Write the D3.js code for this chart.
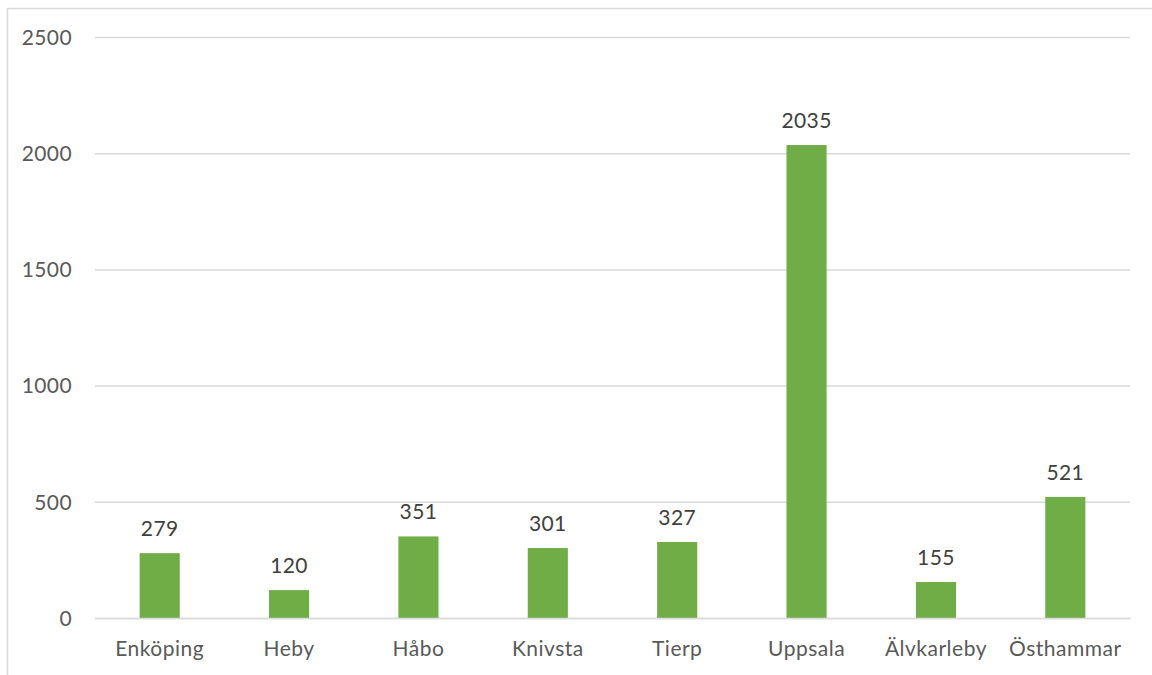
<!DOCTYPE html>
<html><head><meta charset="utf-8">
<script src="https://cdn.jsdelivr.net/npm/d3@7"></script>
<style>body{margin:0;background:#fff}svg{display:block}</style>
</head><body><svg id="c" width="1152" height="675"></svg>
<script>
const categories = ["Enköping","Heby","Håbo","Knivsta","Tierp","Uppsala","Älvkarleby","Östhammar"];
const values = [279,120,351,301,327,2035,155,521];
const yTicks = [0,500,1000,1500,2000,2500];

const svg = d3.select("#c");
const font = "Lato, 'Open Sans', sans-serif";
svg.append("rect").attr("x",7.5).attr("y",8.5).attr("width",1160).attr("height",700)
  .attr("fill","#fff").attr("stroke","#d9d9d9").attr("stroke-width",1.5);

const x = d3.scaleBand().domain(categories).range([95,1130]).paddingInner(0.69).paddingOuter(0.345);
const y = d3.scaleLinear().domain([0,2500]).range([618,37]);

const yAxis = svg.append("g").attr("transform","translate(95,0)")
  .call(d3.axisLeft(y).tickValues(yTicks).tickSize(-1035).tickPadding(23).tickFormat(d3.format("d")));
yAxis.select(".domain").remove();
yAxis.selectAll("line").attr("stroke","#d9d9d9").attr("stroke-width",1.5);
yAxis.selectAll("text").attr("fill","#595959").style("font-family",font).style("font-size","21px")
  .style("letter-spacing","0.4px").attr("dy","0.35em");

svg.append("g").selectAll("rect").data(values).join("rect")
  .attr("x",(d,i)=>x(categories[i])).attr("width",x.bandwidth())
  .attr("y",d=>y(d)).attr("height",d=>y(0)-y(d)).attr("fill","#70ad47");

svg.append("g").selectAll("text").data(values).join("text")
  .attr("x",(d,i)=>x(categories[i])+x.bandwidth()/2).attr("y",d=>y(d)-17)
  .attr("text-anchor","middle").attr("fill","#404040")
  .style("font-family",font).style("font-size","21px").style("letter-spacing","0.4px").text(d=>d);

const xAxis = svg.append("g").attr("transform","translate(0,618)")
  .call(d3.axisBottom(x).tickSize(0).tickPadding(23));
xAxis.select(".domain").attr("stroke","#d9d9d9").attr("stroke-width",1.5);
xAxis.selectAll("text").attr("fill","#595959").style("font-family",font).style("font-size","21px")
  .style("letter-spacing","0.5px").attr("dy","0.71em");
</script></body></html>
